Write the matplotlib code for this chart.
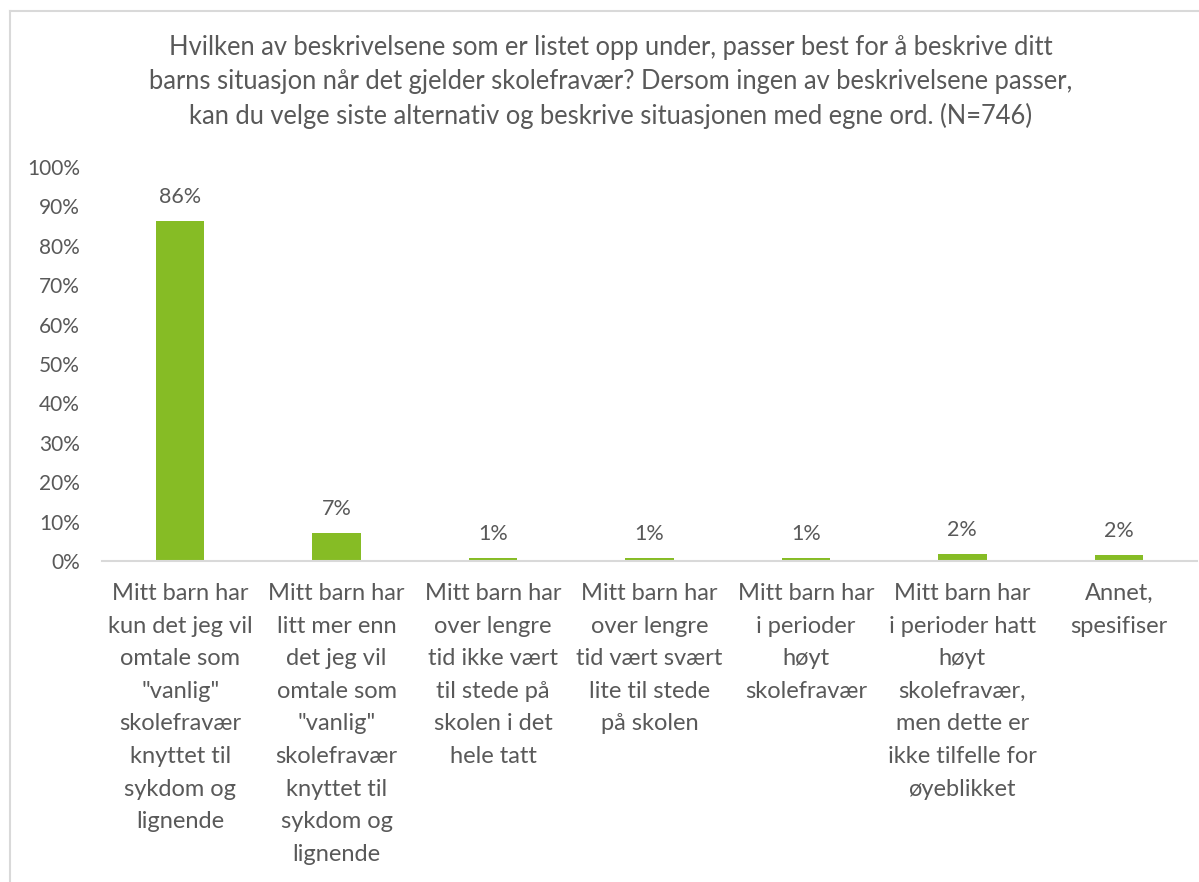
import matplotlib
matplotlib.use("Agg")
import matplotlib.pyplot as plt
from matplotlib.ticker import PercentFormatter
from matplotlib.lines import Line2D

# data
kategorier = [
    "Mitt barn har\nkun det jeg vil\nomtale som\n\"vanlig\"\nskolefravær\nknyttet til\nsykdom og\nlignende",
    "Mitt barn har\nlitt mer enn\ndet jeg vil\nomtale som\n\"vanlig\"\nskolefravær\nknyttet til\nsykdom og\nlignende",
    "Mitt barn har\nover lengre\ntid ikke vært\ntil stede på\nskolen i det\nhele tatt",
    "Mitt barn har\nover lengre\ntid vært svært\nlite til stede\npå skolen",
    "Mitt barn har\ni perioder\nhøyt\nskolefravær",
    "Mitt barn har\ni perioder hatt\nhøyt\nskolefravær,\nmen dette er\nikke tilfelle for\nøyeblikket",
    "Annet,\nspesifiser",
]
andel = [86.3, 7.2, 0.8, 0.8, 0.8, 1.7, 1.5]
etiketter = ["86%", "7%", "1%", "1%", "1%", "2%", "2%"]
yticks = list(range(0, 101, 10))

tittel = ("Hvilken av beskrivelsene som er listet opp under, passer best for å beskrive ditt\n"
          "barns situasjon når det gjelder skolefravær? Dersom ingen av beskrivelsene passer,\n"
          "kan du velge siste alternativ og beskrive situasjonen med egne ord. (N=746)")

tekstfarge = "#595959"
plt.rcParams["font.family"] = ["Lato", "DejaVu Sans"]

fig = plt.figure(figsize=(11.99, 8.82), dpi=100)
ax = fig.add_axes([102 / 1199, 1 - 561 / 882, 1095 / 1199, 394 / 882])

x = list(range(len(kategorier)))
bars = ax.bar(x, andel, width=0.31, color="#86BC25", zorder=2)
for b, lab in zip(bars, etiketter):
    ax.annotate(lab, (b.get_x() + b.get_width() / 2, b.get_height()),
                xytext=(0, 10), textcoords="offset points", ha="center", va="bottom",
                fontsize=15.5, color=tekstfarge)

ax.set_xlim(-0.5, len(kategorier) - 0.5)
ax.set_ylim(0, 100)
ax.set_yticks(yticks)
ax.yaxis.set_major_formatter(PercentFormatter(decimals=0))
ax.set_xticks(x)
ax.set_xticklabels(kategorier, fontsize=17, color=tekstfarge, linespacing=1.68)
ax.tick_params(axis="y", length=0, pad=16, labelsize=15, labelcolor=tekstfarge)
ax.tick_params(axis="x", length=0, pad=16)
for s in ["top", "right", "left"]:
    ax.spines[s].set_visible(False)
ax.spines["bottom"].set_color("#D9D9D9")
ax.spines["bottom"].set_linewidth(1.5)

fig.text(611 / 1199, 1 - 82 / 882, tittel, ha="center", va="center",
         fontsize=18.4, color=tekstfarge, linespacing=1.42)

# border of the chart area
fig.add_artist(Line2D([10 / 1199, 10 / 1199], [0, 1 - 11 / 882], transform=fig.transFigure,
                      color="#D9D9D9", lw=1.5))
fig.add_artist(Line2D([10 / 1199, 1], [1 - 11 / 882, 1 - 11 / 882], transform=fig.transFigure,
                      color="#D9D9D9", lw=1.5))

fig.savefig("out.png", dpi=100)
